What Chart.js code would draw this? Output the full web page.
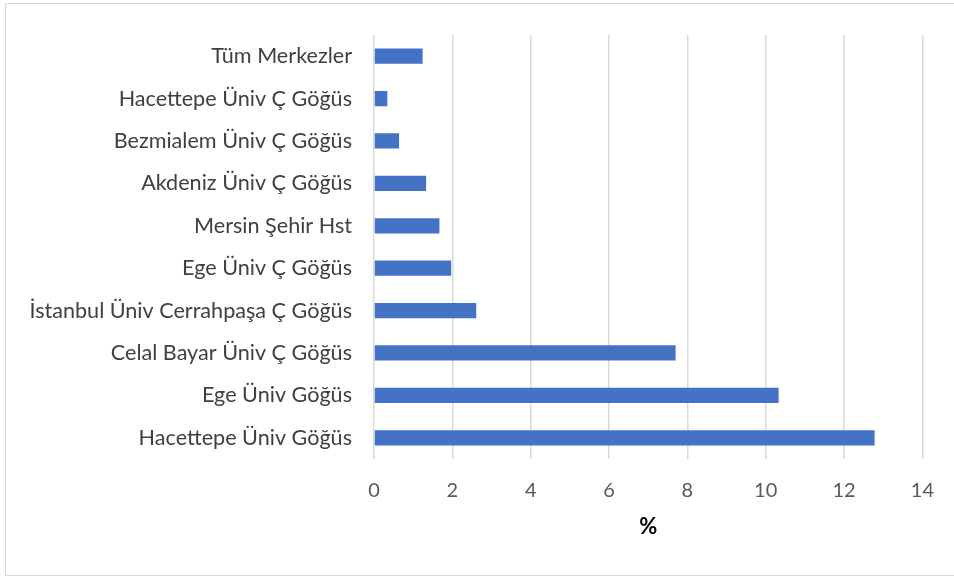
<!DOCTYPE html>
<html>
<head>
<meta charset="utf-8">
<script src="https://cdn.jsdelivr.net/npm/chart.js@4"></script>
<style>
  html, body { margin: 0; padding: 0; background: #fff; }
  #frame { position: absolute; left: 5px; top: 3px; width: 960px; height: 573px; border: 1px solid #d9d9d9; box-sizing: border-box; }
  #wrap { position: absolute; left: 0; top: 0; width: 954px; height: 580px; }
</style>
</head>
<body>
<div id="frame"></div>
<div id="wrap"><canvas id="barChart"></canvas></div>
<script>
const categories = [
    'Tüm Merkezler',
    'Hacettepe Üniv Ç Göğüs',
    'Bezmialem Üniv Ç Göğüs',
    'Akdeniz Üniv Ç Göğüs',
    'Mersin Şehir Hst',
    'Ege Üniv Ç Göğüs',
    'İstanbul Üniv Cerrahpaşa Ç Göğüs',
    'Celal Bayar Üniv Ç Göğüs',
    'Ege Üniv Göğüs',
    'Hacettepe Üniv Göğüs'
];
const percentValues = [1.24, 0.34, 0.64, 1.33, 1.67, 1.97, 2.61, 7.70, 10.33, 12.78];
const xTicks = [0, 2, 4, 6, 8, 10, 12, 14];

function initializeBarChart() {
    const ctx = document.getElementById('barChart');
    const fontFamily = 'Lato, "Open Sans", sans-serif';

    const data = {
        labels: categories,
        datasets: [{
            data: percentValues,
            backgroundColor: '#4472c4',
            barPercentage: 0.36,
            categoryPercentage: 1
        }]
    };

    const options = {
        indexAxis: 'y',
        responsive: true,
        maintainAspectRatio: false,
        animation: false,
        layout: {
            padding: { top: 31, right: 29, bottom: 40, left: 0 }
        },
        plugins: {
            legend: { display: false },
            tooltip: { enabled: false }
        },
        scales: {
            x: {
                min: 0,
                max: 14,
                afterBuildTicks: (scale) => {
                    scale.ticks = xTicks.map(v => ({ value: v }));
                },
                afterFit: (scale) => { scale.height = 81; },
                grid: { color: '#d9d9d9', lineWidth: 1.5, drawTicks: false },
                border: { display: false },
                ticks: {
                    color: '#595959',
                    padding: 20,
                    font: { family: fontFamily, size: 20 }
                },
                title: {
                    display: true,
                    text: '%',
                    color: '#000',
                    padding: 0,
                    font: { family: fontFamily, size: 22, weight: 'bold' }
                }
            },
            y: {
                afterFit: (scale) => { scale.width = 374; },
                grid: { display: false, drawTicks: false },
                border: { display: false },
                ticks: {
                    color: '#404040',
                    padding: 22,
                    font: { family: fontFamily, size: 21.6 }
                }
            }
        }
    };

    new Chart(ctx, { type: 'bar', data: data, options: options });
}

window.addEventListener('load', initializeBarChart);
</script>
</body>
</html>
